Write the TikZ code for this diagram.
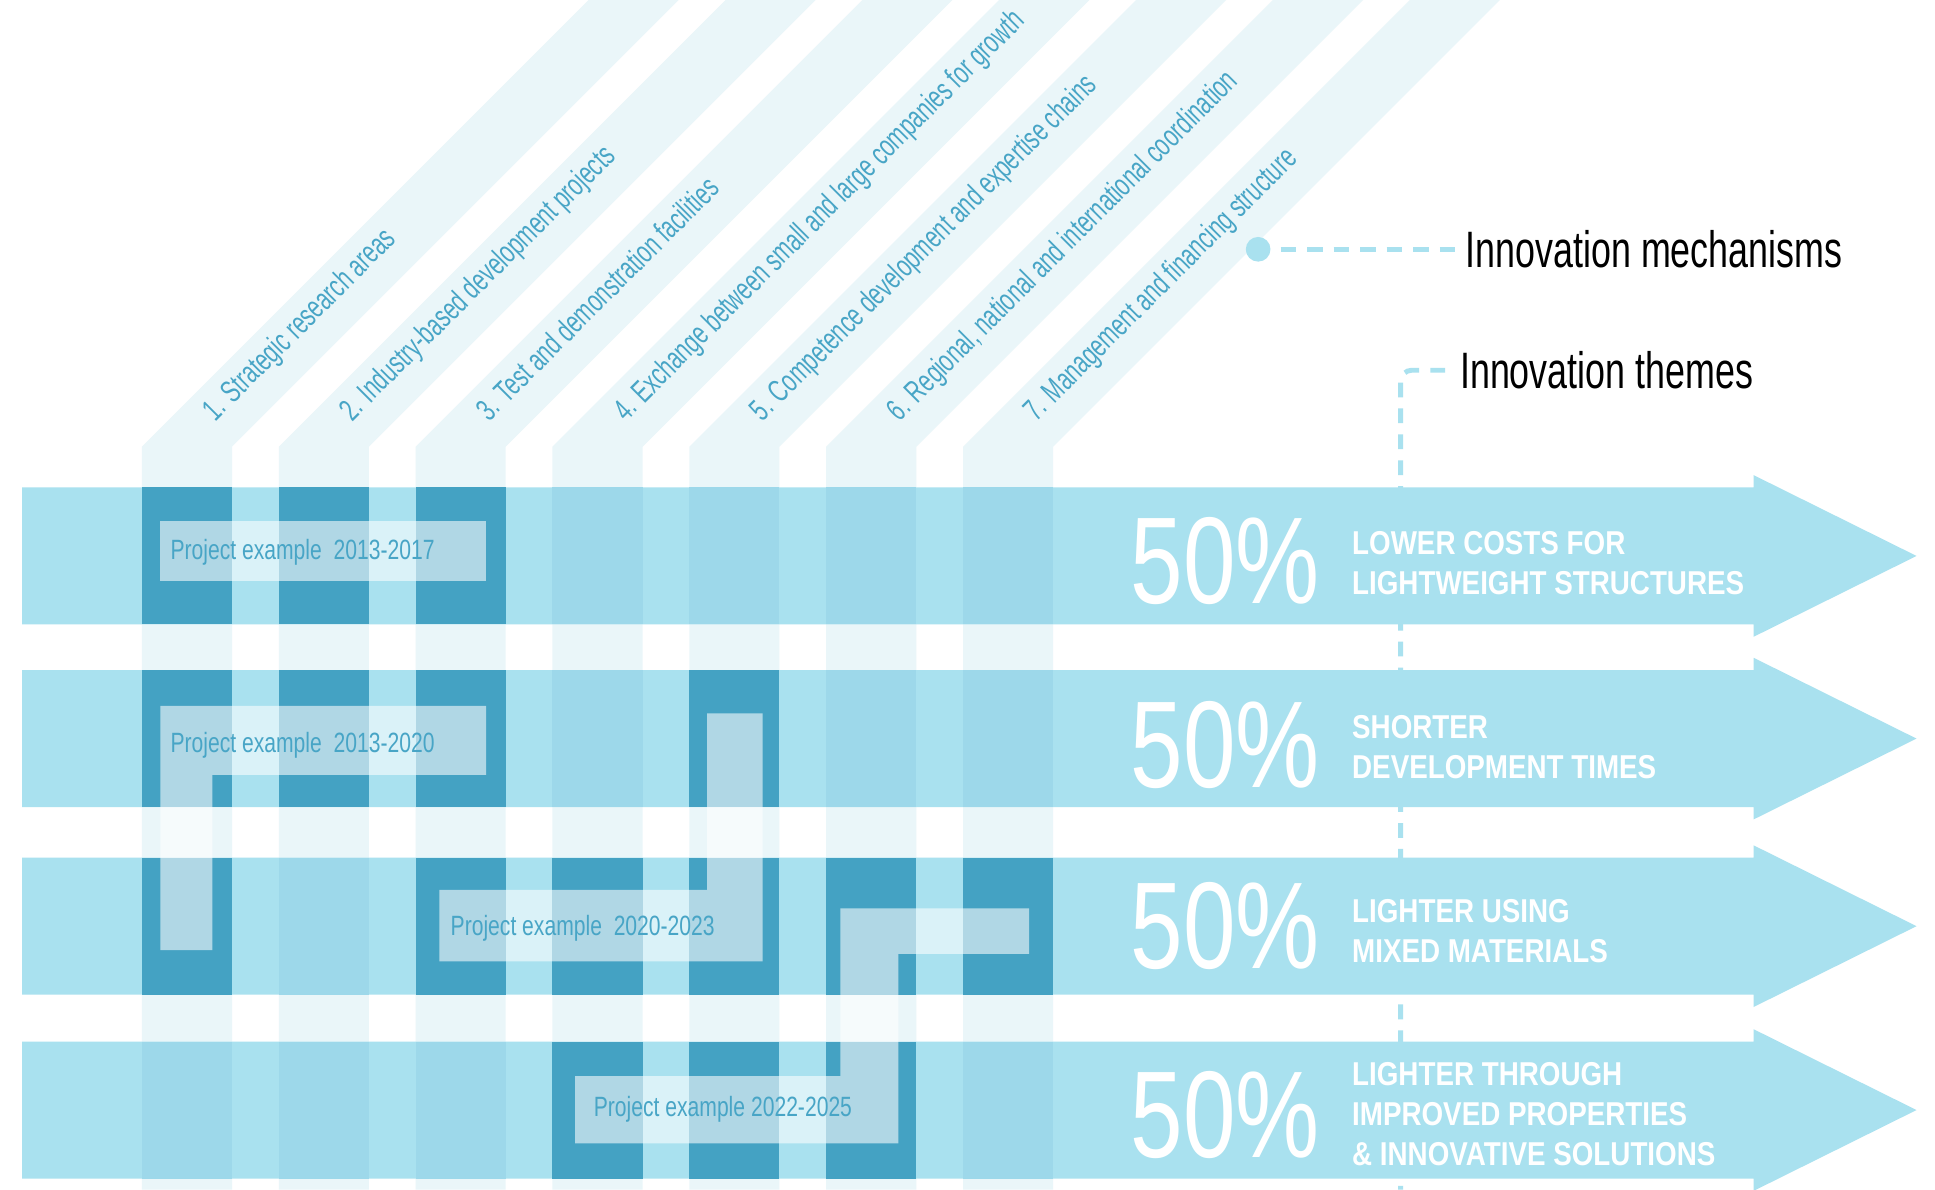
\documentclass[tikz,border=0pt]{standalone}
\usepackage{fontspec}
\setmainfont{Liberation Sans}
\usepackage{graphicx}
\definecolor{bandc}{RGB}{169,225,239}
\definecolor{colc}{RGB}{234,246,249}
\definecolor{ovc}{RGB}{157,216,234}
\definecolor{darkc}{RGB}{68,162,195}
\definecolor{txtc}{RGB}{72,165,198}
\newcommand{\cnd}[2]{\scalebox{#1}[1]{#2}}
\begin{document}
\begin{tikzpicture}[x=1pt,y=-1pt,
  lab/.style={rotate=45, anchor=mid west, inner sep=0pt, text=txtc, font=\fontsize{25.5}{25.5}\selectfont},
  proj/.style={anchor=base west, inner sep=0pt, text=txtc, font=\fontsize{22.6}{22.6}\selectfont},
  pct/.style={anchor=base west, inner sep=0pt, text=white, font=\fontsize{100}{100}\selectfont},
  theme/.style={anchor=base west, inner sep=0pt, text=white, font=\bfseries\fontsize{26.8}{32.5}\selectfont},
  legend/.style={anchor=west, inner sep=0pt, text=black, font=\fontsize{41.5}{41.5}\selectfont},
  dashline/.style={draw=bandc, line width=4pt, dash pattern=on 12.5pt off 9pt},
  overlay/.style={fill=white, opacity=0.58}
]
\useasboundingbox (0,0) rectangle (1568,964);
\fill[white] (0,0) rectangle (1568,964);

% mechanism strips
\foreach \i in {0,...,6}{
  \pgfmathsetmacro\xl{115+110.9*\i}
  \pgfmathsetmacro\xr{\xl+73}
  \fill[colc] (\xl,964) -- (\xl,362) -- ({\xl+362},0) -- ({\xr+362},0) -- (\xr,362) -- (\xr,964) -- cycle;
}

% legend
\node[circle, fill=bandc, minimum size=20pt, inner sep=0pt] (mdot) at (1019.5,202) {};
\node[legend] (mech) at (1187.5,202) {\cnd{0.70}{Innovation mechanisms}};
\node[legend] (themes) at (1183,300) {\cnd{0.70}{Innovation themes}};
\coordinate (tend) at (1135,964);
\draw[dashline] ([xshift=8pt]mdot.east) -- ([xshift=-6pt]mech.west);
\draw[dashline, dash pattern=on 12pt off 9pt, rounded corners=9pt] ([xshift=-12pt]themes.west) -| (tend);

% theme bands
\foreach \t in {395,543,695,844}{
  \fill[bandc] (18,\t) -- (1421,\t) -- (1421,\t-10) -- (1553,\t+55.5) -- (1421,\t+121) -- (1421,\t+111) -- (18,\t+111) -- cycle;
  \foreach \i in {0,...,6}{
    \fill[ovc] (115+110.9*\i,\t) rectangle ++(73,111);
  }
}

% dark squares
\foreach \i/\t in {0/395,1/395,2/395,0/543,1/543,2/543,4/543,0/695,2/695,3/695,4/695,5/695,6/695,3/844,4/844,5/844}{
  \fill[darkc] (115+110.9*\i,\t) rectangle ++(73,111);
}

% project example overlays
\fill[overlay] (130,422) rectangle (394,471);
\fill[overlay] (130,572) -- (394,572) -- (394,628) -- (172,628) -- (172,770) -- (130,770) -- cycle;
\fill[overlay] (356,721) -- (573,721) -- (573,578) -- (618,578) -- (618,779) -- (356,779) -- cycle;
\fill[overlay] (466,872) -- (681,872) -- (681,736) -- (834,736) -- (834,773) -- (728,773) -- (728,926.5) -- (466,926.5) -- cycle;

\node[proj] (p1) at (138,453.5) {\cnd{0.757}{Project example\ \ 2013-2017}};
\node[proj] (p2) at (138,610) {\cnd{0.757}{Project example\ \ 2013-2020}};
\node[proj] (p3) at (365,758) {\cnd{0.757}{Project example\ \ 2020-2023}};
\node[proj] (p4) at (481,905) {\cnd{0.757}{Project example 2022-2025}};

% mechanism labels
\node[lab] (l1) at (172.6,340.4) {\cnd{0.675}{1. Strategic research areas}};
\node[lab] (l2) at (283.5,340.4) {\cnd{0.675}{2. Industry-based development projects}};
\node[lab] (l3) at (394.4,340.4) {\cnd{0.675}{3. Test and demonstration facilities}};
\node[lab] (l4) at (505.3,340.4) {\cnd{0.675}{4. Exchange between small and large companies for growth}};
\node[lab] (l5) at (616.2,340.4) {\cnd{0.675}{5. Competence development and expertise chains}};
\node[lab] (l6) at (727.1,340.4) {\cnd{0.675}{6. Regional, national and international coordination}};
\node[lab] (l7) at (838.0,340.4) {\cnd{0.675}{7. Management and financing structure}};

% percentages
\node[pct] (n1) at (916,489) {\cnd{0.765}{50\%}};
\node[pct] (n2) at (916,638) {\cnd{0.765}{50\%}};
\node[pct] (n3) at (916,785) {\cnd{0.765}{50\%}};
\node[pct] (n4) at (916,938) {\cnd{0.765}{50\%}};

% theme texts
\node[theme] (t1) at (1095.5,449) {\cnd{0.84}{\begin{tabular}[t]{@{}l@{}}LOWER COSTS FOR\\LIGHTWEIGHT STRUCTURES\end{tabular}}};
\node[theme] (t2) at (1095.5,598.6) {\cnd{0.84}{\begin{tabular}[t]{@{}l@{}}SHORTER\\DEVELOPMENT TIMES\end{tabular}}};
\node[theme] (t3) at (1095.5,747.6) {\cnd{0.84}{\begin{tabular}[t]{@{}l@{}}LIGHTER USING\\MIXED MATERIALS\end{tabular}}};
\node[theme] (t4) at (1095.5,879.6) {\cnd{0.84}{\begin{tabular}[t]{@{}l@{}}LIGHTER THROUGH\\IMPROVED PROPERTIES\\\& INNOVATIVE SOLUTIONS\end{tabular}}};
\end{tikzpicture}
\end{document}
